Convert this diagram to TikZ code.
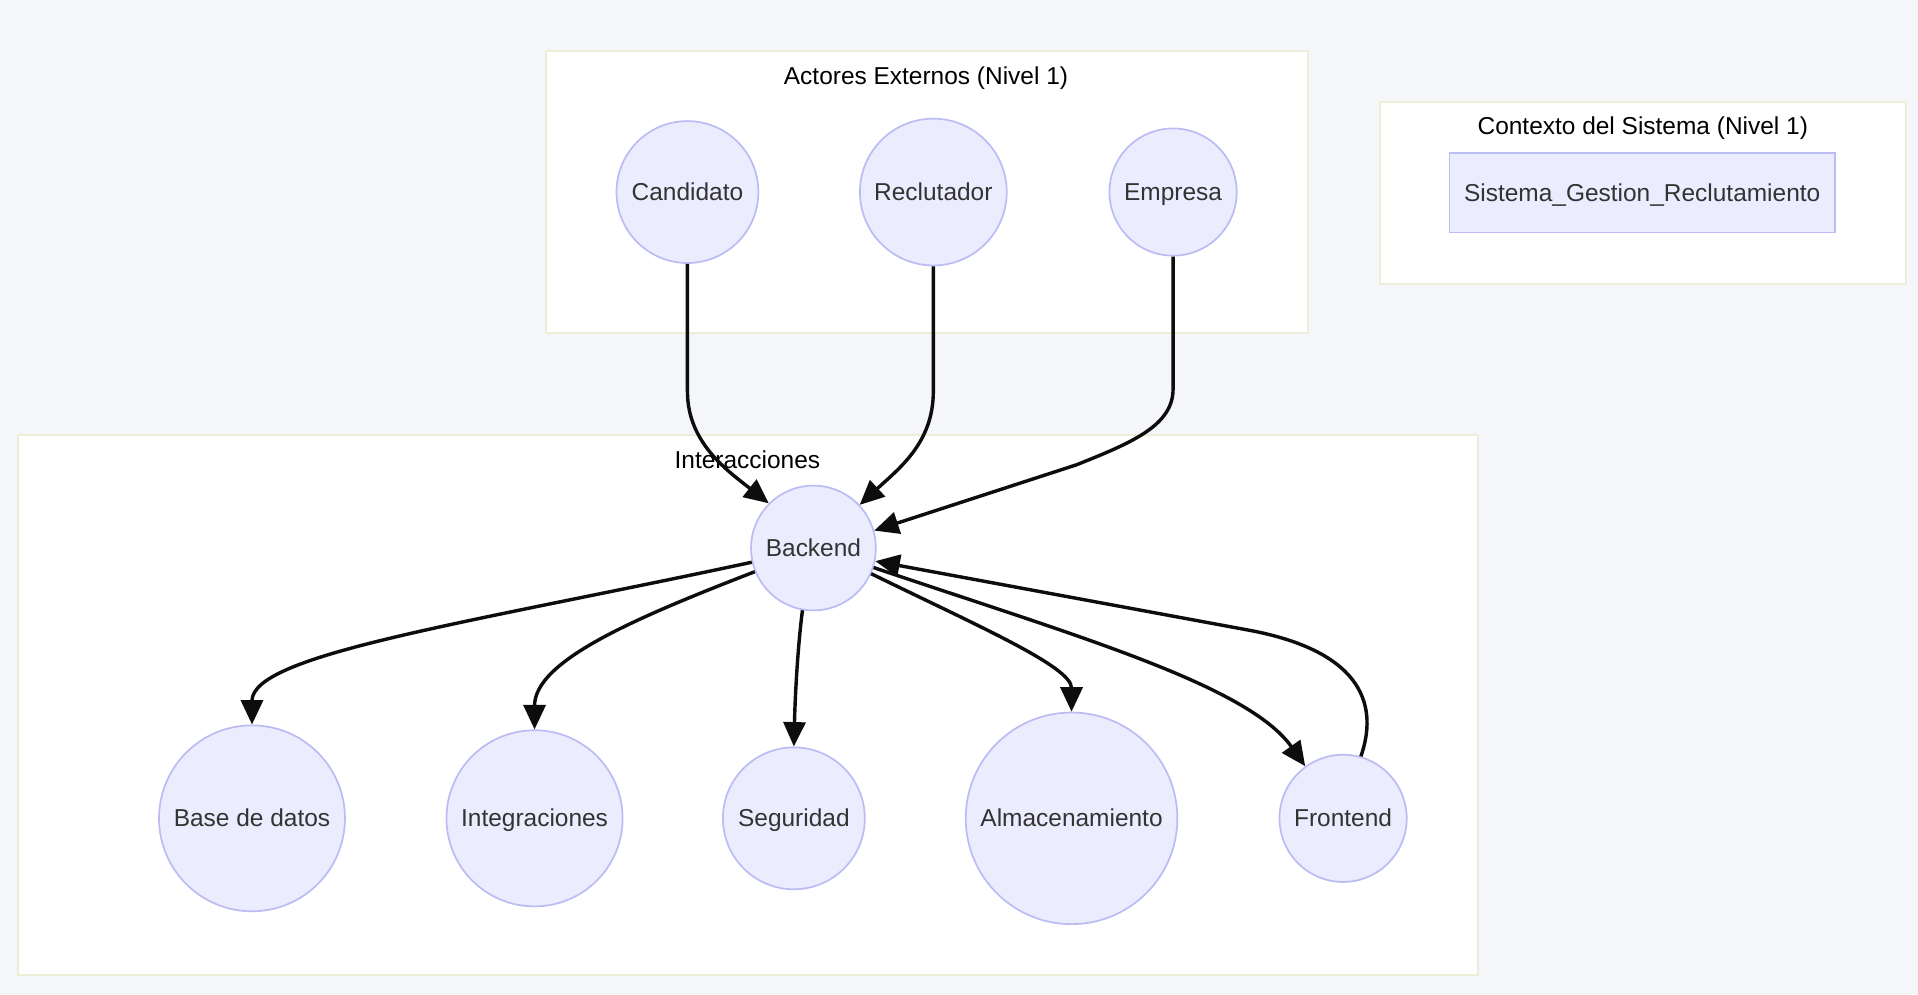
\documentclass[tikz,border=0pt]{standalone}
\usepackage{fontspec}
\setmainfont{Liberation Sans}
\usetikzlibrary{arrows.meta}
\definecolor{fondo}{HTML}{F5F6FA}
\definecolor{borde}{HTML}{EEEED8}
\definecolor{relleno}{HTML}{ECECFF}
\definecolor{trazo}{HTML}{BCBCF5}
\definecolor{texto}{HTML}{333333}
\tikzset{
  actor/.style={circle,draw=trazo,fill=relleno,line width=0.7pt,text=texto,font=\fontsize{10}{12}\selectfont,inner sep=0pt,text height=9pt,text depth=2pt},
  grupo/.style={draw=borde,fill=white,line width=0.8pt},
  titulo/.style={font=\fontsize{10}{12}\selectfont,text=black,text height=9pt,text depth=2pt},
  flujo/.style={-{Triangle[length=10pt,width=9pt]},line width=1.4pt,black!95}
}
\begin{document}
\begin{tikzpicture}[x=0.5pt,y=-0.5pt]
        \fill[fondo](0,0)rectangle(1568,813);
        \useasboundingbox(0,0)rectangle(1568,813);
        % grupos
        \draw[grupo](446,42)rectangle(1069,272);
        \draw[grupo](1128,83)rectangle(1558,232);
        \draw[grupo](15,356)rectangle(1208,797);
        \node[titulo](tact)at(757,62){Actores Externos (Nivel 1)};
        \node[titulo](tctx)at(1343,103){Contexto del Sistema (Nivel 1)};
        \node[titulo](tint)at(611,376){Interacciones};
        % nodos
        \node[actor,minimum size=58pt](cand)at(562,157){Candidato};
        \node[actor,minimum size=60pt](recl)at(763,157){Reclutador};
        \node[actor,minimum size=52pt](emp)at(959,157){Empresa};
        \node[draw=trazo,fill=relleno,line width=0.7pt,text=texto,font=\fontsize{10}{12}\selectfont,text height=9pt,text depth=2pt,minimum width=157.5pt,minimum height=32.5pt](sis)at(1342.5,157.5){Sistema\_Gestion\_Reclutamiento};
        \node[actor,minimum size=51pt](back)at(665,448){Backend};
        \node[actor,minimum size=76pt](base)at(206,669){Base de datos};
        \node[actor,minimum size=72pt](integ)at(437,669){Integraciones};
        \node[actor,minimum size=58pt](seg)at(649,669){Seguridad};
        \node[actor,minimum size=86.5pt](alm)at(876,669){Almacenamiento};
        \node[actor,minimum size=52pt](front)at(1098,669){Frontend};
        % flechas
        \draw[flujo](cand)--(562,320)..controls(562,362)and(595,385)..(back.135);
        \draw[flujo](recl)--(763,320)..controls(763,362)and(735,383)..(back.43);
        \draw[flujo](emp)--(959,318)..controls(959,348)and(925,362)..(880,380)--(back.16);
        \draw[flujo](back.193)..controls(380,510)and(206,535)..(base.north);
        \draw[flujo](back.202)..controls(520,505)and(437,540)..(integ.north);
        \draw[flujo](back.260)..controls(652,530)and(650,570)..(seg.north);
        \draw[flujo](back.336)..controls(800,512)and(876,545)..(alm.north);
        \draw[flujo](back.342)..controls(880,520)and(1020,560)..(front.126);
        \draw[flujo](front.74)..controls(1126,580)and(1118,533)..(1020,515)--(back.348);
    \end{tikzpicture}
\end{document}
